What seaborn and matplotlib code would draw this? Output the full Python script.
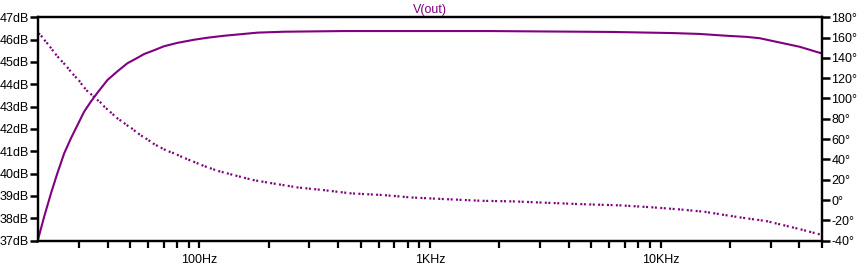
import numpy as np
import pandas as pd
import matplotlib
matplotlib.use("Agg")
import matplotlib.pyplot as plt
from matplotlib.ticker import FixedLocator, NullFormatter
import seaborn as sns

# ---- data ----
mag_freq = [20, 21.2, 22.7, 24.2, 25.9, 27.7, 29.6, 31.6, 33.8, 36.1, 39.9, 44.1,
            48.7, 53.8, 57.5, 63.5, 70.2, 80.1, 94.6, 108, 128, 179, 232, 423,
            1828, 6155, 11300, 14800, 19300, 23600, 26900, 32100, 40000, 50000]
mag_db = [37.1, 38.07, 39.12, 40.02, 40.91, 41.58, 42.18, 42.77, 43.22, 43.62, 44.19, 44.58,
          44.94, 45.18, 45.35, 45.52, 45.70, 45.85, 45.99, 46.08, 46.17, 46.31, 46.35, 46.38,
          46.38, 46.34, 46.29, 46.25, 46.17, 46.12, 46.06, 45.89, 45.68, 45.38]

phase_freq = [20, 20.4, 21.2, 22.1, 23.1, 24.0, 25.1, 26.3, 27.4, 28.6, 30.0, 31.1,
              32.4, 33.9, 35.5, 37.3, 38.8, 40.6, 44.2, 46.5, 48.3, 51.0, 53.1, 55.6,
              60.2, 63.0, 66.1, 72.5, 78.0, 85.0, 94.6, 105, 120, 147, 172, 208,
              267, 346, 453, 629, 824, 1006, 1656, 2297, 3223, 4478, 6669, 9268,
              12100, 15500, 22000, 28800, 40000, 48900, 50000]
phase_deg = [164.0, 163.0, 157.8, 153.2, 147.3, 142.4, 137.5, 132.6, 127.6, 122.7, 117.8, 112.9,
             108.0, 104.1, 99.8, 95.9, 91.6, 87.7, 80.2, 76.9, 73.9, 70.4, 67.1, 63.8,
             58.9, 55.7, 53.0, 48.4, 45.8, 41.9, 37.6, 33.4, 28.75, 23.5, 19.6, 16.4,
             12.4, 9.8, 6.6, 4.9, 2.6, 1.6, -0.7, -1.3, -2.7, -4.0, -5.2, -7.2,
             -9.2, -11.5, -17.0, -20.7, -28.5, -33.7, -34.2]

db_ticks = list(range(37, 48))
db_labels = [f"{v}dB" for v in db_ticks]
deg_ticks = list(range(-40, 181, 20))
deg_labels = [f"{v}\u00b0" for v in deg_ticks]
freq_major = [100, 1000, 10000]
freq_major_labels = ["100Hz", "1KHz", "10KHz"]
freq_minor = [30, 40, 50, 60, 70, 80, 90,
              200, 300, 400, 500, 600, 700, 800, 900,
              2000, 3000, 4000, 5000, 6000, 7000, 8000, 9000,
              20000, 30000, 40000, 50000]
title = "V(out)"

# ---- style ----
sns.set_theme(style="white")
plt.rcParams['font.family'] = ['Liberation Sans', 'DejaVu Sans']
plt.rcParams['font.size'] = 9
PURPLE = "#800080"

W, H = 864, 267
L, R, T, B = 38.3, 821.7, 17.2, 240.7
fig = plt.figure(figsize=(W / 100, H / 100), dpi=100)
ax = fig.add_axes([L / W, 1 - B / H, (R - L) / W, (B - T) / H])
ax2 = ax.twinx()

mag_df = pd.DataFrame({"freq": mag_freq, "db": mag_db})
ph_df = pd.DataFrame({"freq": phase_freq, "deg": phase_deg})

sns.lineplot(data=mag_df, x="freq", y="db", ax=ax, color=PURPLE, linewidth=1.5,
             estimator=None, sort=True)
sns.lineplot(data=ph_df, x="freq", y="deg", ax=ax2, color=PURPLE, linewidth=1.6,
             estimator=None, sort=True, linestyle=(0, (0.9, 0.7, 0.9, 1.5)))

ax.set_xscale("log")
ax.set_xlim(20, 50000)
ax.set_ylim(37, 47)
ax2.set_ylim(-40, 180)

ax.xaxis.set_major_locator(FixedLocator(freq_major))
ax.set_xticklabels(freq_major_labels)
ax.xaxis.set_minor_locator(FixedLocator(freq_minor))
ax.xaxis.set_minor_formatter(NullFormatter())
ax.set_yticks(db_ticks)
ax.set_yticklabels(db_labels)
ax2.set_yticks(deg_ticks)
ax2.set_yticklabels(deg_labels)

for a in (ax, ax2):
    a.set_xlabel("")
    a.set_ylabel("")
    a.grid(False)
    for s in a.spines.values():
        s.set_color("black")
        s.set_linewidth(1.6)
    a.set_facecolor("none")

ax.tick_params(axis="x", which="both", bottom=True, direction="out", length=5,
               width=1.6, pad=4.5, color="black", labelcolor="black", labelsize=9)
ax.tick_params(axis="y", left=True, direction="out", length=6, width=1.8, pad=1,
               color="black", labelcolor="black", labelsize=9)
ax2.tick_params(axis="y", right=True, direction="out", length=6, width=1.8, pad=1,
                color="black", labelcolor="black", labelsize=9)

fig.text((L + R) / 2 / W, 1 - 9.5 / H, title, ha="center", va="center",
         color=PURPLE, fontsize=9)

fig.savefig("out.png", dpi=100)
